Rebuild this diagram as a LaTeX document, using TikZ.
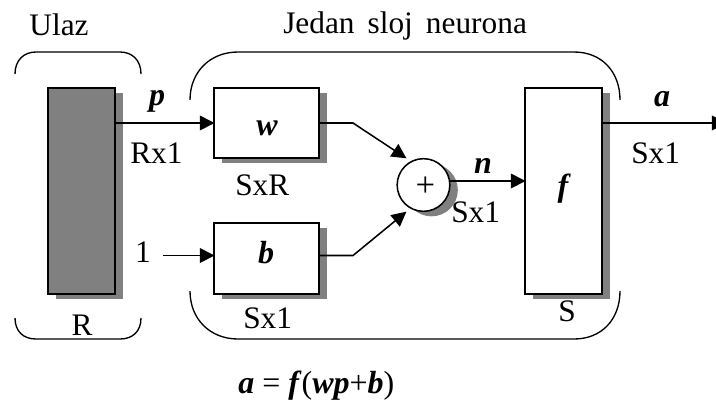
\documentclass[tikz,border=0pt]{standalone}
\usepackage{fontspec}
\setmainfont{Liberation Serif}
\usetikzlibrary{shadows,arrows.meta,calc}
\tikzset{
  x=0.75pt,y=-0.75pt,
  ln/.style={line width=1.15pt},
  sh/.style={copy shadow={shadow xshift=6pt,shadow yshift=-3.75pt,fill=shgray,draw=none,opacity=1}},
  boxn/.style={draw,ln,fill=white,sh,rectangle,inner sep=0pt,outer sep=0pt},
  conn/.style={ln,-{Triangle[length=11pt,width=11pt]},shorten >=-0.4pt},
  brk/.style={line width=1pt},
  lab/.style={anchor=base,inner sep=0pt,font=\fontsize{23.5}{25}\selectfont},
  labw/.style={anchor=base west,inner sep=0pt,font=\fontsize{23.5}{25}\selectfont},
  var/.style={anchor=base,inner sep=0pt,font=\fontsize{24}{26}\selectfont\bfseries\itshape},
}
\definecolor{shgray}{HTML}{808080}
\begin{document}
\begin{tikzpicture}
\useasboundingbox (0,0) rectangle (716,401);
% blocks
\node[boxn,fill=shgray,minimum width=50.25pt,minimum height=154.5pt] (input) at (81.5,191) {};
\node[boxn,minimum width=78.75pt,minimum height=52.5pt] (w) at (266.5,123) {};
\node[boxn,minimum width=78.75pt,minimum height=53.25pt] (b) at (266.5,258.5) {};
\node[boxn,minimum width=57.75pt,minimum height=154.5pt] (f) at (563.5,191) {};
\node[boxn,circle,minimum size=39.5pt] (sum) at (423.5,185) {};
% helper points
\coordinate (one) at (163,255.5);
\coordinate (bin) at (214,255.5);
\coordinate (bout) at (319,255.5);
\coordinate (wk) at (353,123);
\coordinate (bk) at (353,255.5);
\coordinate (suma) at (406,158);
\coordinate (sumb) at (406,212);
\coordinate (nfrom) at (450,181);
\coordinate (nto) at (525,181);
\coordinate (aend) at (726,123);
% connectors
\draw[conn] (input.east |- w.west) -- (w.west);
\draw[conn] (one) -- (bin);
\draw[conn] (w.east) -- (wk) -- (suma);
\draw[conn] (bout) -- (bk) -- (sumb);
\draw[conn] (nfrom) -- (nto);
\draw[conn] (f.east |- w.east) -- (aend);
% brackets
\draw[brk] (15,74) .. controls (15,60) and (24,52) .. (36,52) -- (120,52) .. controls (132,52) and (141,60) .. (141,74);
\draw[brk] (15,318) .. controls (15,332) and (24,339) .. (36,339) -- (120,339) .. controls (132,339) and (141,332) .. (141,318);
\draw[brk] (190,100) .. controls (190,72) and (210,52) .. (238,52) -- (574,52) .. controls (602,52) and (620,72) .. (620,100);
\draw[brk] (190,291) .. controls (190,319) and (210,339) .. (238,339) -- (574,339) .. controls (602,339) and (620,319) .. (620,291);
% labels
\node[lab] (t1) at (59,35) {Ulaz};
\node[labw] (t2) at (283,33) {Jedan\, sloj\, neurona};
\node[var] (tp) at (157,105) {p};
\node[var] (ta) at (662,106) {a};
\node[var] (tn) at (483,173) {n};
\node[var] (tw) at (267,135) {w};
\node[var] (tb) at (266,263) {b};
\node[var] (tf) at (563,196) {f};
\node[labw] (r1) at (130,163) {Rx1};
\node[labw] (sr) at (235,195) {SxR};
\node[lab] (one1) at (143,262) {1};
\node[labw] (s1) at (243,328) {Sx1};
\node[lab] (tr) at (82,335) {R};
\node[lab] (ts) at (567,321) {S};
\node[labw] (s2) at (451,222) {Sx1};
\node[labw] (s3) at (631,163) {Sx1};
\node[lab,font=\fontsize{26}{28}\selectfont] (plus) at ($(sum.center)+(2,11.5)$) {+};
\node[labw,font=\fontsize{24}{26}\selectfont] (eq) at (238,393) {\textbf{\textit{a}} = \textbf{\textit{f}}(\textbf{\textit{wp}}+\textbf{\textit{b}})};
\end{tikzpicture}
\end{document}
